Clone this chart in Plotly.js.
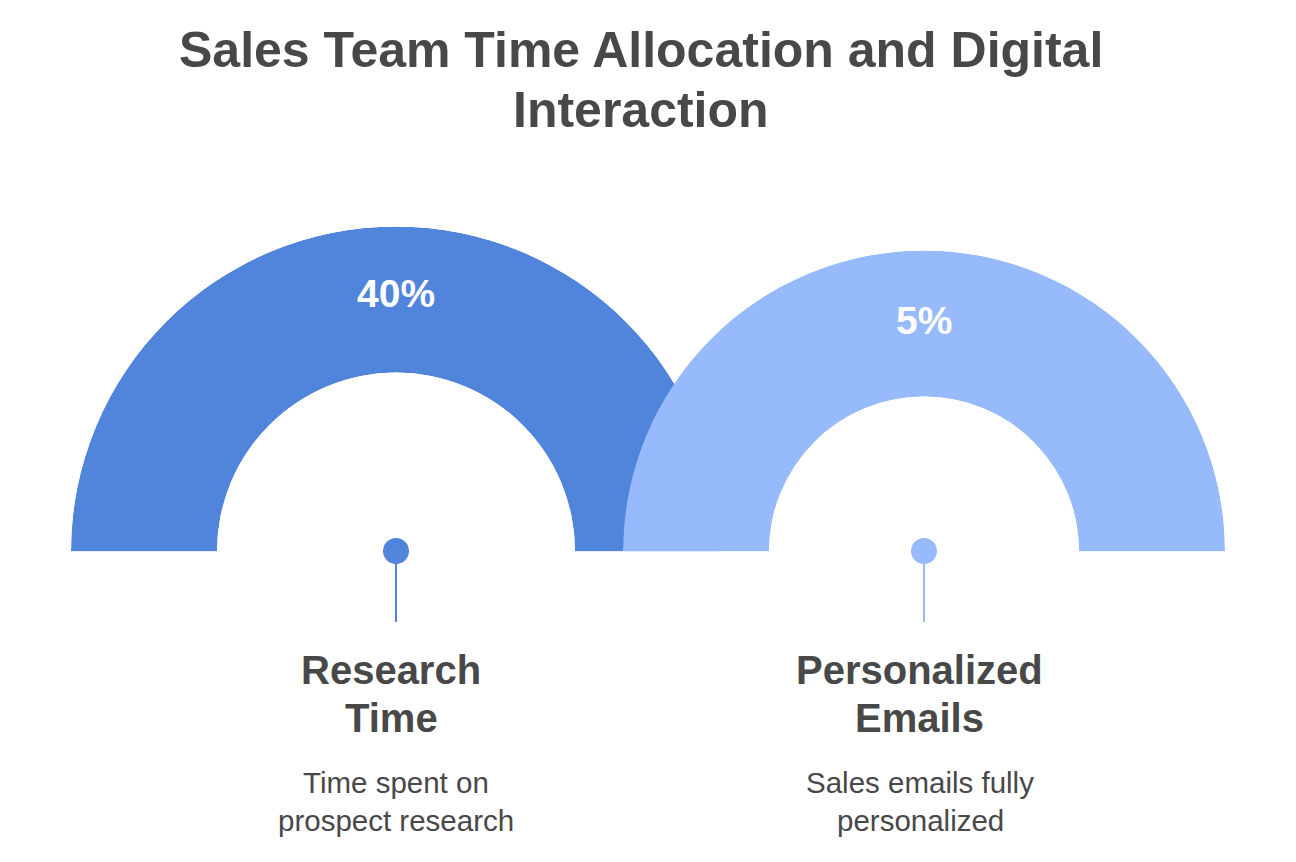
<!DOCTYPE html>
<html><head><meta charset="utf-8">
<script src="https://cdn.plot.ly/plotly-3.0.1.min.js"></script>
<style>html,body{margin:0;padding:0;background:#fff;overflow:hidden}#chart{width:1296px;height:862px}</style>
</head><body><div id="chart"></div>
<script>
// ---- data ----
const titleText = "Sales Team Time Allocation and Digital<br>Interaction";
const categories = ["Research<br>Time", "Personalized<br>Emails"];
const values = [40, 5];
const descriptions = ["Time spent on<br>prospect research", "Sales emails fully<br>personalized"];
const colors = ["#5184DB", "#96BAFC"];

// ---- layout geometry (pixels) ----
const W = 1296, H = 862;
const px = x => x / W;
const py = y => 1 - y / H;
const gauges = [
  {cx: 396, cy: 551.5, r: 325, inner: 179, pctY: 293, labelX: 391, descX: 396},
  {cx: 924, cy: 551.5, r: 301, inner: 155, pctY: 320, labelX: 919, descX: 920}
];
const FONT = "Liberation Sans, Arial, sans-serif";
const TEXT = "#484848";

const traces = categories.map((c, i) => ({
  type: "barpolar",
  subplot: i === 0 ? "polar" : "polar2",
  r: [1], theta: [90], width: [180],
  marker: {color: colors[i], line: {width: 0}},
  name: c.replace("<br>", " "),
  hoverinfo: "skip", showlegend: false
}));

const layout = {
  width: W, height: H,
  margin: {l: 0, r: 0, t: 0, b: 0},
  paper_bgcolor: "#ffffff",
  showlegend: false,
  annotations: [],
  shapes: []
};

function addLines(text, x, yList, font) {
  text.split("<br>").forEach((line, k) => {
    layout.annotations.push({
      xref: "paper", yref: "paper", x: px(x), y: py(yList[k]),
      xanchor: "center", yanchor: "middle", showarrow: false,
      text: line, font: font
    });
  });
}

gauges.forEach((g, i) => {
  const key = i === 0 ? "polar" : "polar2";
  layout[key] = {
    domain: {x: [px(g.cx - g.r), px(g.cx + g.r)], y: [py(g.cy), py(g.cy - g.r)]},
    sector: [0, 180],
    hole: g.inner / g.r,
    bgcolor: "rgba(0,0,0,0)",
    radialaxis: {visible: false, range: [0, 1]},
    angularaxis: {visible: false}
  };
  layout.annotations.push({
    xref: "paper", yref: "paper", x: px(g.cx), y: py(g.pctY),
    xanchor: "center", yanchor: "middle", showarrow: false,
    text: values[i] + "%",
    font: {family: FONT, size: 39, color: "#ffffff", weight: "bold"}
  });
  addLines(categories[i], g.labelX, [670, 718], {family: FONT, size: 40, color: TEXT, weight: "bold"});
  addLines(descriptions[i], g.descX, [782, 820], {family: FONT, size: 29.5, color: TEXT});
  layout.shapes.push({
    type: "line", xref: "paper", yref: "paper", layer: "above",
    x0: px(g.cx), x1: px(g.cx), y0: py(551), y1: py(622),
    line: {color: colors[i], width: 2}
  });
  layout.shapes.push({
    type: "circle", xref: "paper", yref: "paper", layer: "above",
    x0: px(g.cx - 13), x1: px(g.cx + 13), y0: py(551 + 13), y1: py(551 - 13),
    fillcolor: colors[i], line: {width: 0}
  });
});

addLines(titleText, 641, [50, 110], {family: FONT, size: 50, color: TEXT, weight: "bold"});

Plotly.newPlot("chart", traces, layout, {displayModeBar: false, staticPlot: true});
</script></body></html>
